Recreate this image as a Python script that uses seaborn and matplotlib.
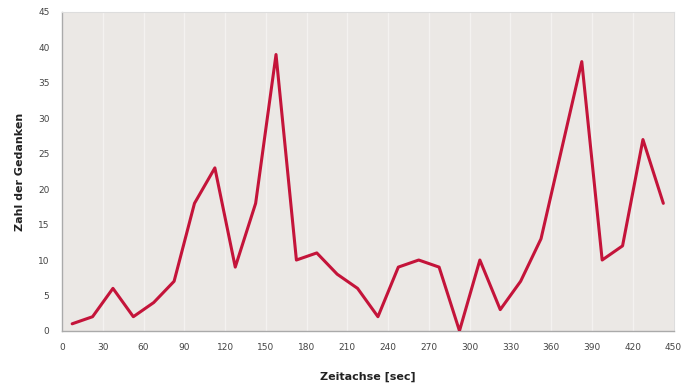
import matplotlib
matplotlib.use("Agg")
import matplotlib.pyplot as plt
import seaborn as sns
import pandas as pd

# Data
zeit = [7.5, 22.5, 37.5, 52.5, 67.5, 82.5, 97.5, 112.5, 127.5, 142.5,
        157.5, 172.5, 187.5, 202.5, 217.5, 232.5, 247.5, 262.5, 277.5, 292.5,
        307.5, 322.5, 337.5, 352.5, 367.5, 382.5, 397.5, 412.5, 427.5, 442.5]
gedanken = [1, 2, 6, 2, 4, 7, 18, 23, 9, 18,
            39, 10, 11, 8, 6, 2, 9, 10, 9, 0,
            10, 3, 7, 13, 25.5, 38, 10, 12, 27, 18]
x_ticks = [0, 30, 60, 90, 120, 150, 180, 210, 240, 270, 300, 330, 360, 390, 420, 450]
y_ticks = [0, 5, 10, 15, 20, 25, 30, 35, 40, 45]

df = pd.DataFrame({"Zeit": zeit, "Gedanken": gedanken})

sns.set_theme(style="white")
plt.rcParams['font.family'] = ['DejaVu Sans']

fig = plt.figure(figsize=(6.91, 3.87), dpi=100)
ax = fig.add_axes([0.0897, 0.145, 0.885, 0.824])
ax.set_facecolor("#ebe8e5")

sns.lineplot(data=df, x="Zeit", y="Gedanken", ax=ax, color="#c4143a",
             linewidth=2.2, zorder=3)

ax.set_xlim(0, 450)
ax.set_ylim(0, 45)
ax.set_xticks(x_ticks)
ax.set_xticklabels([str(v) for v in x_ticks])
ax.set_yticks(y_ticks)
ax.set_yticklabels([str(v) for v in y_ticks])
ax.tick_params(axis="both", labelsize=6.5, colors="#444444", length=0, pad=9)

ax.xaxis.grid(True, color="#f4f2f0", linewidth=1.0, zorder=0)
ax.yaxis.grid(False)

for side in ["left", "bottom"]:
    ax.spines[side].set_color("#aaaaaa")
    ax.spines[side].set_linewidth(1.0)
for side in ["top", "right"]:
    ax.spines[side].set_color("#dddddd")
    ax.spines[side].set_linewidth(0.8)

ax.set_xlabel("Zeitachse [sec]", fontsize=8, fontweight="bold", color="#222222", labelpad=14)
ax.set_ylabel("Zahl der Gedanken", fontsize=8, fontweight="bold", color="#222222", labelpad=9)

fig.savefig("out.png", dpi=100)
